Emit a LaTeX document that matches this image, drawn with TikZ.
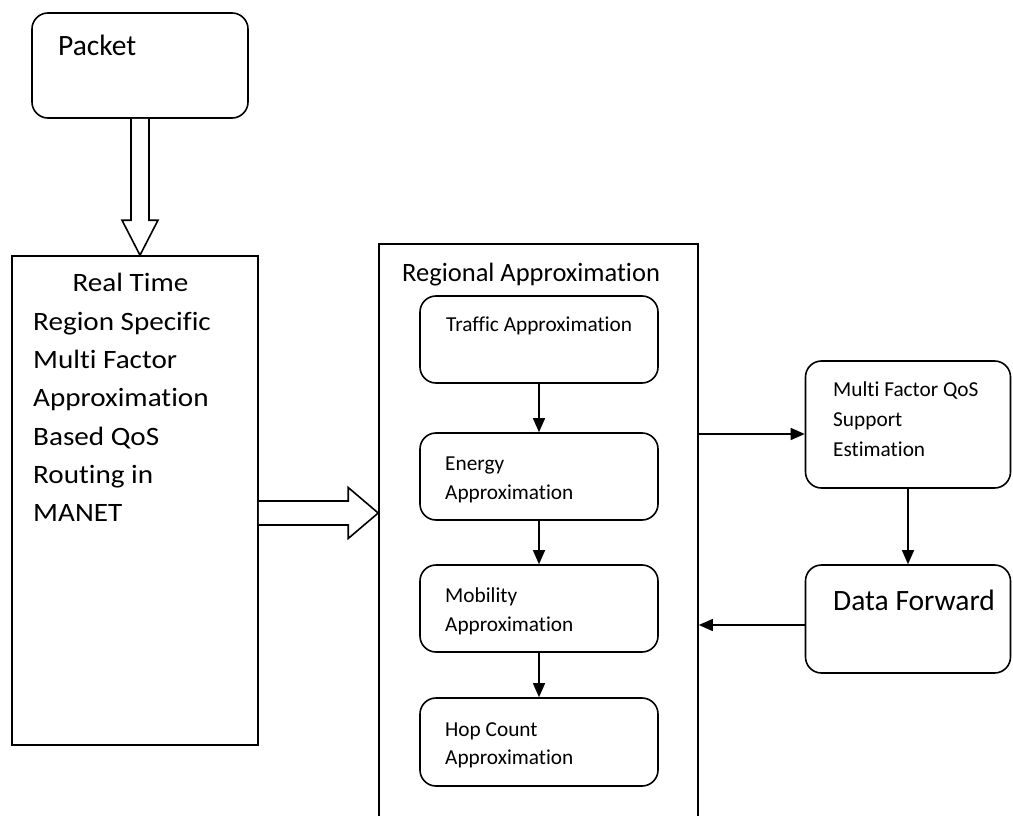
\documentclass[tikz,border=0pt]{standalone}
\usepackage{fontspec}
\setmainfont{Carlito}[Ligatures={NoCommon}]
\usetikzlibrary{arrows.meta}
\newcommand{\wide}[1]{\scalebox{1.1}[1]{#1}}
\begin{document}
\begin{tikzpicture}[x=1pt,y=-1pt,
  rbox/.style={draw, rounded corners=16pt, line width=1.6pt, inner sep=0pt},
  sbox/.style={draw, line width=1.6pt, inner sep=0pt},
  txt/.style={inner sep=0pt, anchor=base west},
  bigf/.style={font=\fontsize{26.5}{32}\selectfont},
  smallf/.style={font=\fontsize{21.3}{26}\selectfont},
  conn/.style={line width=1.4pt, -{Triangle[length=14pt,width=12pt]}},
  hollow/.style={line width=1.6pt, line join=miter, fill=white}]
\useasboundingbox (0,0) rectangle (1013,816);
\clip (0,0) rectangle (1013,816);
% boxes
\node[rbox, minimum width=216pt, minimum height=105pt] (packet) at (140,65.5) {};
\node[sbox, minimum width=246pt, minimum height=489pt] (left) at (135,500.5) {};
\node[sbox, minimum width=319pt, minimum height=600pt] (regional) at (538.5,544) {};
\node[rbox, minimum width=238pt, minimum height=87pt] (traffic) at (539,339.5) {};
\node[rbox, minimum width=238pt, minimum height=87pt] (energy) at (539,476.5) {};
\node[rbox, minimum width=238pt, minimum height=87pt] (mobility) at (539,608.5) {};
\node[rbox, minimum width=238pt, minimum height=88pt] (hop) at (539,742) {};
\node[rbox, minimum width=205pt, minimum height=127pt] (mf) at (908,424.5) {};
\node[rbox, minimum width=205pt, minimum height=108pt] (df) at (908,619) {};
% texts
\node[txt, font=\fontsize{29.5}{35}\selectfont] (tpacket) at (58,56) {Packet};
\node[txt, bigf, anchor=base] (l1) at (130.5,291.7) {\wide{Real Time}};
\node[txt, bigf] (l2) at (33,330) {\wide{Region Specific}};
\node[txt, bigf] (l3) at (33,368.3) {\wide{Multi Factor}};
\node[txt, bigf] (l4) at (33,406.6) {\wide{Approximation}};
\node[txt, bigf] (l5) at (33,445) {\wide{Based QoS}};
\node[txt, bigf] (l6) at (33,483.3) {\wide{Routing in}};
\node[txt, bigf] (l7) at (33,521.6) {\wide{MANET}};
\node[txt, bigf] (treg) at (402,281.7) {Regional Approximation};
\node[txt, smallf] (ttraffic) at (446,331.7) {Traffic Approximation};
\node[txt, smallf] (te1) at (445,470.7) {Energy};
\node[txt, smallf] (te2) at (445,499.3) {Approximation};
\node[txt, smallf] (tm1) at (445,602.7) {Mobility};
\node[txt, smallf] (tm2) at (445,631) {Approximation};
\node[txt, smallf] (th1) at (445,736) {Hop Count};
\node[txt, smallf] (th2) at (445,764) {Approximation};
\node[txt, smallf] (tmf1) at (833,396.7) {Multi Factor QoS};
\node[txt, smallf] (tmf2) at (833,426.5) {Support};
\node[txt, smallf] (tmf3) at (833,456.5) {Estimation};
\node[txt, font=\fontsize{29.5}{35}\selectfont] (tdf) at (833,610) {Data Forward};
% connectors
\draw[conn] (traffic.south) -- (energy.north);
\draw[conn] (energy.south) -- (mobility.north);
\draw[conn] (mobility.south) -- (hop.north);
\draw[conn] ([yshift=-9.5pt]mf.west -| regional.east) -- ([yshift=-9.5pt]mf.west);
\draw[conn] (mf.south) -- (df.north);
\draw[conn] ([yshift=-6pt]df.west) -- ([yshift=-6pt]df.west -| regional.east);
% hollow arrows
\path (packet.south) coordinate (pa) (pa |- left.north) coordinate (pb);
\draw[hollow] ([xshift=-9pt]pa) -- ([xshift=-9pt,yshift=35pt]pb) -- ([xshift=-18pt,yshift=35pt]pb) -- (pb)
  -- ([xshift=18pt,yshift=35pt]pb) -- ([xshift=9pt,yshift=35pt]pb) -- ([xshift=9pt]pa);
\path ([yshift=-12.5pt]left.east) coordinate (ra) (ra -| regional.west) coordinate (rb);
\draw[hollow] ([yshift=12pt]ra) -- ([xshift=-30pt,yshift=12pt]rb) -- ([xshift=-30pt,yshift=25.5pt]rb) -- (rb)
  -- ([xshift=-30pt,yshift=-25.5pt]rb) -- ([xshift=-30pt,yshift=-12pt]rb) -- ([yshift=-12pt]ra);
\end{tikzpicture}
\end{document}
